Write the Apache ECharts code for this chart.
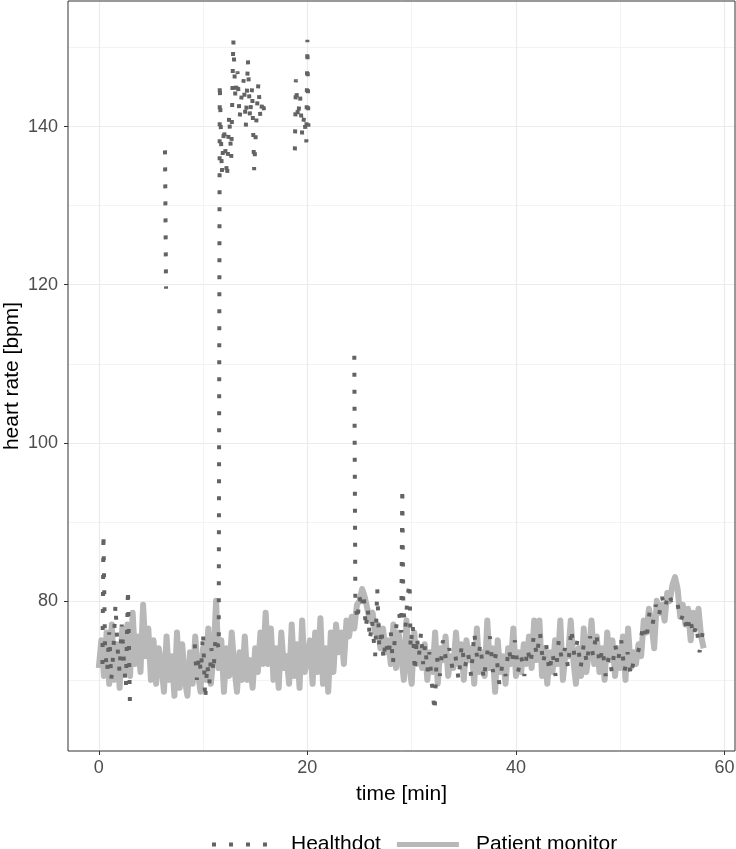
<!DOCTYPE html>
<html>
<head>
<meta charset="utf-8">
<script src="https://cdn.jsdelivr.net/npm/echarts@6/dist/echarts.min.js"></script>
<style>
  html, body { margin: 0; padding: 0; background: #fff; }
  #chart { width: 736px; height: 849px; }
</style>
</head>
<body>
<div id="chart"></div>
<script>
// axis ticks
var xTicks = [0, 20, 40, 60];
var xMinor = [10, 30, 50];
var yTicks = [80, 100, 120, 140];
var yMinor = [70, 90, 110, 130, 150];

// patient monitor, one value every 0.25 min from t = 0
var pmStart = 0;
var pmStep = 0.25;
var pmValue = [
  71.5, 75, 70.5, 76,  69.5, 77, 70, 74.5,  69, 76.5, 71, 77,  70.5, 78.5, 72, 75.5,
  71, 79.5, 73, 76.5,  70, 75, 69.5, 74,  72, 68.5, 75.5, 70,  73, 68, 76, 69,
  74.5, 70, 68, 73.5,  69.5, 75.5, 71, 68.5,  74, 70, 76.5, 69.5,  73, 80, 71.5, 75,
  68.5, 74, 70.5, 76,  71.5, 68.5, 73.5, 70,  75.5, 70, 72.5, 69,  74, 71, 76, 72,
  78.5, 72, 76.5, 70,  74, 69, 76, 71.5,  73, 69.5, 77, 70.5,  74.5, 69, 77.5, 71,
  72.5, 75, 69.5, 76,  71, 77.8, 69.5, 74,  68.5, 76, 71, 77,  73.5, 76, 72, 77.5,
  75.5, 78, 76.5, 79.5,  80, 81.5, 80.5, 79,  77.5, 78.5, 76, 77,  74, 76.5, 73.5, 75,
  72, 77, 71.5, 76,  73, 70, 77.5, 72,  69.5, 76, 72, 74,  71.5, 74.5, 70, 73.5,
  71, 76, 69.5, 74,  72.5, 75.5, 70.5, 73,  71.5, 76, 72, 74.5,  70, 75, 72.5, 74,
  69.5, 76.5, 71, 73.5,  70.5, 77.5, 71.5, 74,  68.5, 75, 71, 73,  69.5, 74, 72, 76.5,
  70.5, 73.5, 71, 74.5,  72, 75.5, 71.5, 77.5,  72.5, 77.5, 70.5, 74,  69.5, 73.5, 71, 75,
  72, 77.5, 70, 73.5,  73, 77.5, 72.5, 69.5,  74, 70.5, 76.5, 71,  73.5, 77.5, 72, 75.5,
  71, 74, 70, 76,  72.5, 75, 70.5, 74,  71.5, 75.5, 70, 76.5,  71.5, 73.5, 72, 74.5,
  73, 77.5, 76, 79,  77, 74, 80, 78.5,  79.5, 77.5, 81, 80,  82, 83, 81.5, 78,
  79.5, 77, 79, 75,  78.5, 76.5, 79, 75.5,  74
];

// healthdot, null marks a gap in the recording
var hdTime = [
  0.35, 0.45, 0.6, 0.8, 1.0, 1.2, 1.4, 1.6, 1.8, 2.0, 2.2, 2.4, 2.6, 2.8, 3.0,
  4.5,
  6.35, 6.45,
  8.0,
  9.2, 9.4, 9.6, 9.8, 10.0, 10.2, 10.4, 10.6, 10.8, 11.0, 11.2, 11.5,
  11.6, 11.8, 12.0, 12.3, 12.5, 12.7, 12.9, 13.1, 13.3, 13.5, 13.7, 13.9, 14.1,
  14.3, 14.5, 14.7, 14.9, 15.1, 15.3, 15.5, 15.7, 15.9,
  17.0,
  18.8, 18.9, 19.1, 19.3, 19.5, 19.7, 19.9, 20.0, 20.1,
  22.0,
  24.5, 24.6, 24.8, 25.0, 25.2, 25.4, 25.6, 25.8, 26.0, 26.2, 26.5, 26.7, 26.9,
  27.1, 27.3, 27.5, 27.8, 28.0, 28.2, 28.4, 28.6, 28.8, 29.0, 29.1, 29.2, 29.4,
  29.6, 29.8, 29.9, 30.1, 30.3, 30.5, 30.7, 30.9, 31.1, 31.3, 31.5, 31.7, 31.9,
  32.2, 32.4, 32.7, 33.0, 33.3, 33.6, 33.9, 34.2, 34.5, 34.8, 35.1, 35.4, 35.7,
  36.0, 36.3, 36.6, 36.9, 37.2, 37.5, 37.8, 38.1, 38.4, 38.7, 39.0, 39.3, 39.6,
  39.9, 40.2, 40.5, 40.8, 41.1, 41.4, 41.7, 42.0, 42.3, 42.6, 42.9, 43.2, 43.5,
  43.8, 44.1, 44.4, 44.7, 45.0, 45.3, 45.6, 45.9, 46.2, 46.5, 46.8, 47.1, 47.4,
  47.7, 48.0, 48.3, 48.6, 48.9, 49.2, 49.5, 49.8, 50.1, 50.4, 50.7, 51.0, 51.3,
  51.6, 51.9, 52.2, 52.5, 52.8, 53.1, 53.4, 53.7, 54.0, 54.3, 54.6, 54.9, 55.2,
  55.5, 55.8, 56.1, 56.4, 56.7, 57.0, 57.3, 57.6, 57.9
];
var hdValue = [
  72, 88.5, 74, 71, 76, 70, 73.5, 79.5, 74, 71, 77, 72.5, 69, 81.5, 66,
  null,
  137, 119.5,
  null,
  74.5, 70, 73, 71, 76, 67.5, 72, 69.5, 74, 71, 75.5, 74,
  145.5, 134, 140, 133.5, 141.5, 136, 151, 143.5, 147, 141, 144, 146, 140,
  148.5, 141, 145, 134.5, 140.5, 145.5, 141, 143.5, 141.5,
  null,
  137, 146, 141, 144, 139, 141.5, 138, 151, 140,
  null,
  111, 80, 77.5, 80.5, 79, 81, 76.5, 79, 75, 77.5, 73, 81.5, 74,
  76.5, 72.5, 75, 73, 76, 72, 75.5, 77.5, 78.5, 76, 94.3, 79, 76.5,
  80.5, 82.3, 74, 77, 71, 75.5, 73, 76, 72, 74.5, 71, 73.5, 70,
  66, 73, 70.5, 75, 72.5, 74, 71.5, 73, 70, 74.5, 71.5, 73.5, 70.5,
  76, 72.5, 74.5, 70, 73, 75.5, 71, 73.5, 69.5, 72, 70.5, 74, 72,
  75, 71, 73, 70.5, 74, 72, 75.5, 73, 76, 72, 74.5, 71, 73.5,
  70.5, 75, 72.5, 74, 71.5, 76.5, 73, 75, 71.5, 74.5, 72, 75.5, 73,
  76, 72, 74, 70.5, 73, 71, 74.5, 72.5, 75, 71, 73.5, 70.5, 72.5,
  73, 74.5, 77, 75, 78.5, 77, 79.5, 78, 80.5, 79, 81, 80, 80.5,
  79.5, 77.5, 78.5, 76, 78, 75.5, 77, 73.5, 76
];

var pmData = [];
for (var i = 0; i < pmValue.length; i++) {
  pmData.push([pmStart + i * pmStep, pmValue[i]]);
}
var hdData = [];
for (var j = 0; j < hdTime.length; j++) {
  hdData.push([hdTime[j], hdValue[j]]);
}

var font = 'Liberation Sans, Arial, sans-serif';

// legend keys: four dots, and a plain bar
var dotIcon = 'path://M0,0h4v4h-4zM17,0h4v4h-4zM34,0h4v4h-4zM51,0h4v4h-4zM61.9,1.9h0.1v0.1h-0.1z';
var barIcon = 'path://M0,0h62v5h-62z';

var myChart = echarts.init(document.getElementById('chart'), null, { renderer: 'canvas' });
var option = {
  animation: false,
  backgroundColor: '#ffffff',
  textStyle: { fontFamily: font },
  grid: [{
    left: 68, right: 1, top: 1, bottom: 98,
    containLabel: false,
    outerBoundsMode: 'none',
    show: true, borderColor: '#333333', borderWidth: 1, backgroundColor: 'transparent', z: 5
  }],
  legend: {
    data: [
      { name: 'Healthdot', icon: dotIcon },
      { name: 'Patient monitor', icon: barIcon }
    ],
    left: 207,
    top: 829,
    itemWidth: 62,
    itemHeight: 14,
    itemGap: 16,
    symbolKeepAspect: true,
    textStyle: { fontFamily: font, fontSize: 21, color: '#000000', padding: [0, 0, 0, 12] }
  },
  xAxis: [{
    type: 'value',
    min: -2.95,
    max: 61.0,
    splitNumber: 3,
    name: 'time [min]',
    nameLocation: 'middle',
    nameGap: 33,
    nameMoveOverlap: false,
    nameTextStyle: { fontFamily: font, fontSize: 21, color: '#000000' },
    axisLine: { show: false, onZero: false },
    axisTick: { show: true, customValues: xTicks, length: 4, lineStyle: { color: '#333333' } },
    axisLabel: { customValues: xTicks, margin: 8, fontSize: 18, color: '#4d4d4d', fontFamily: font },
    splitLine: { show: true, lineStyle: { color: '#ebebeb', width: 1.2 } }
  }, {
    type: 'value',
    min: -2.95,
    max: 61.0,
    splitNumber: 6,
    axisLine: { show: false, onZero: false },
    axisTick: { show: false, customValues: xMinor },
    axisLabel: { show: false, customValues: xMinor },
    splitLine: { show: true, lineStyle: { color: '#f3f3f3', width: 1 } }
  }],
  yAxis: [{
    type: 'value',
    min: 61.0,
    max: 155.9,
    splitNumber: 5,
    name: 'heart rate [bpm]',
    nameLocation: 'middle',
    nameGap: 45,
    nameMoveOverlap: false,
    nameTextStyle: { fontFamily: font, fontSize: 21, color: '#000000' },
    axisLine: { show: false, onZero: false },
    axisTick: { show: true, customValues: yTicks, length: 4, lineStyle: { color: '#333333' } },
    axisLabel: { customValues: yTicks, margin: 10, fontSize: 18, color: '#4d4d4d', fontFamily: font },
    splitLine: { show: true, lineStyle: { color: '#ebebeb', width: 1.2 } }
  }, {
    type: 'value',
    min: 61.0,
    max: 155.9,
    splitNumber: 9,
    axisLine: { show: false, onZero: false },
    axisTick: { show: false, customValues: yMinor },
    axisLabel: { show: false, customValues: yMinor },
    splitLine: { show: true, lineStyle: { color: '#f3f3f3', width: 1 } }
  }],
  series: [
    {
      name: 'Patient monitor',
      type: 'line',
      xAxisIndex: 0,
      yAxisIndex: 0,
      showSymbol: false,
      symbol: 'none',
      z: 2,
      lineStyle: { color: '#b8b8b8', width: 6, join: 'round' },
      itemStyle: { color: '#b8b8b8' },
      data: pmData
    },
    {
      name: 'Healthdot',
      type: 'line',
      xAxisIndex: 0,
      yAxisIndex: 0,
      showSymbol: false,
      symbol: 'none',
      connectNulls: false,
      z: 3,
      lineStyle: { color: '#636363', width: 4, type: [4, 13], cap: 'butt' },
      itemStyle: { color: '#636363' },
      data: hdData
    }
  ]
};
option && myChart.setOption(option);
</script>
</body>
</html>
